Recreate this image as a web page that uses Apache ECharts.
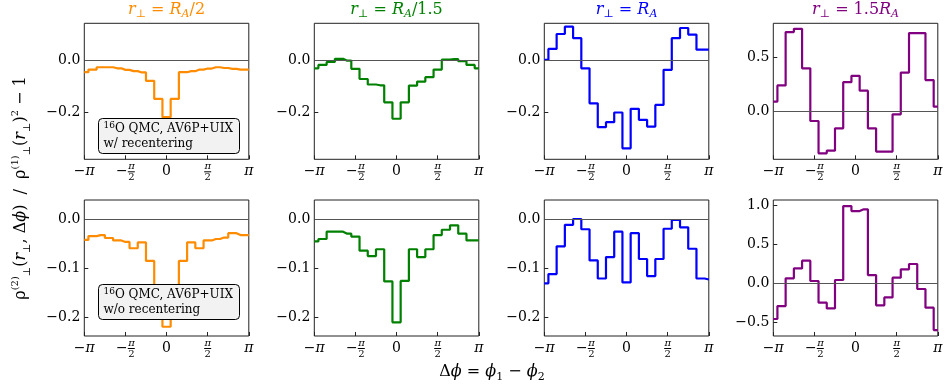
<!DOCTYPE html>
<html>
<head>
<meta charset="utf-8">
<script src="https://cdn.jsdelivr.net/npm/echarts@6/dist/echarts.min.js"></script>
<style>
  html, body { margin: 0; padding: 0; background: #fff; }
  #main { width: 947px; height: 387px; }
</style>
</head>
<body>
<div id="main"></div>
<script>
// 相对角 Δφ/π 的取样点
var phiOverPi = [-1.0, -0.9, -0.8, -0.7, -0.6, -0.5, -0.4, -0.3, -0.2, -0.1, 0.0,
                 0.1, 0.2, 0.3, 0.4, 0.5, 0.6, 0.7, 0.8, 0.9, 1.0];

// 上排: w/ recentering
var rowTopHalf   = [-0.047, -0.037, -0.028, -0.028, -0.032, -0.038, -0.043, -0.048, -0.080, -0.149, -0.219,
                    -0.149, -0.047, -0.043, -0.037, -0.033, -0.028, -0.031, -0.034, -0.037, -0.037];
var rowTop1p5    = [-0.032, -0.019, -0.008, 0.004, -0.003, -0.034, -0.073, -0.094, -0.097, -0.162, -0.225,
                    -0.162, -0.098, -0.083, -0.066, -0.037, 0.001, 0.003, -0.005, -0.019, -0.032];
var rowTopRA     = [0.0, 0.042, 0.099, 0.127, 0.083, -0.032, -0.166, -0.257, -0.238, -0.201, -0.338,
                    -0.187, -0.229, -0.255, -0.172, -0.038, 0.083, 0.122, 0.097, 0.039, 0.039];
var rowTop15RA   = [0.088, 0.24, 0.74, 0.77, 0.40, -0.094, -0.397, -0.372, -0.163, 0.27, 0.33,
                    0.19, -0.163, -0.381, -0.381, -0.031, 0.36, 0.73, 0.73, 0.29, 0.04];
// 下排: w/o recentering
var rowBotHalf   = [-0.042, -0.034, -0.032, -0.038, -0.043, -0.046, -0.059, -0.047, -0.085, -0.150, -0.220,
                    -0.150, -0.085, -0.047, -0.059, -0.043, -0.040, -0.037, -0.028, -0.032, -0.032];
var rowBot1p5    = [-0.045, -0.040, -0.025, -0.025, -0.029, -0.035, -0.064, -0.075, -0.061, -0.127, -0.211,
                    -0.126, -0.061, -0.077, -0.061, -0.032, -0.021, -0.012, -0.029, -0.043, -0.043];
var rowBotRA     = [-0.131, -0.112, -0.055, -0.011, 0.001, -0.020, -0.084, -0.121, -0.077, -0.025, -0.129,
                    -0.028, -0.081, -0.116, -0.081, -0.019, -0.001, -0.016, -0.060, -0.121, -0.123];
var rowBot15RA   = [-0.455, -0.29, 0.064, 0.19, 0.29, 0.03, -0.247, -0.32, 0.043, 0.987, 0.923,
                    0.945, 0.106, -0.28, -0.179, 0.072, 0.179, 0.247, -0.072, -0.31, -0.596];

var panelValues = [rowTopHalf, rowTop1p5, rowTopRA, rowTop15RA, rowBotHalf, rowBot1p5, rowBotRA, rowBot15RA];
var panelColors = ['#ff8c00', '#008000', '#0000ff', '#800080'];
var titleTexts = [
    '{i|r}{s|⊥}{n| = }{i|R}{s|A}{n|/2}',
    '{i|r}{s|⊥}{n| = }{i|R}{s|A}{n|/1.5}',
    '{i|r}{s|⊥}{n| = }{i|R}{s|A}',
    '{i|r}{s|⊥}{n| = 1.5}{i|R}{s|A}'
];
// y 轴刻度
var yTicksTop = [-0.2, 0.0];
var yTicksTop4 = [0.0, 0.5];
var yTicksBot = [-0.2, -0.1, 0.0];
var yTicksBot4 = [-0.5, 0.0, 0.5, 1.0];
var yTickList = [yTicksTop, yTicksTop, yTicksTop, yTicksTop4, yTicksBot, yTicksBot, yTicksBot, yTicksBot4];
var yRanges = [[-0.38, 0.14], [-0.38, 0.14], [-0.38, 0.14], [-0.453, 0.822],
               [-0.239, 0.040], [-0.239, 0.040], [-0.239, 0.040], [-0.672, 1.064]];
var legendLines = ['w/ recentering', 'w/o recentering'];

var SERIF = "'DejaVu Serif', 'Liberation Serif', serif";
var PI = Math.PI;

// 布局
var gridLefts = [84.3, 314.3, 544.3, 773.3];
var gridWidth = 164.5;
var gridTops = [23.3, 200];
var gridHeight = 136;

var dom = document.getElementById('main');
var myChart = echarts.init(dom);

var xTickVals = [-PI, -PI / 2, 0, PI / 2, PI];
var xRich = {
    a: { fontFamily: SERIF, fontSize: 14, color: '#000', lineHeight: 3 },
    ai: { fontFamily: SERIF, fontStyle: 'italic', fontSize: 14, color: '#000', lineHeight: 3 },
    n: { fontFamily: SERIF, fontSize: 10, color: '#000', lineHeight: 8 },
    ni: { fontFamily: SERIF, fontStyle: 'italic', fontSize: 10, color: '#000', lineHeight: 8 },
    np: { fontFamily: SERIF, fontStyle: 'italic', fontSize: 10, color: '#000', lineHeight: 8, padding: [0, 0, 0, 12] },
    npd: { fontFamily: SERIF, fontSize: 10, color: '#000', lineHeight: 8, padding: [0, 0, 0, 12] },
    e: { fontSize: 6, lineHeight: 8 },
    bar: { width: 7, height: 1, backgroundColor: '#000', lineHeight: 3 }
};
function xLabel(v) {
    var k = Math.round(v / (PI / 2));
    if (k === -2) return '{e| }\n{a|−}{ai|π}\n{e| }';
    if (k === 2) return '{e| }\n{ai|π}\n{e| }';
    if (k === 0) return '{e| }\n{a|0}\n{e| }';
    if (k === -1) return '{np|π}\n{a|−}{bar|}\n{npd|2}';
    return '{ni|π}\n{bar|}\n{n|2}';
}
function yLabel(v) {
    return (v < -1e-9 ? '−' : '') + Math.abs(v).toFixed(1);
}

var grids = [], xAxes = [], yAxes = [], series = [];
for (var i = 0; i < 8; i++) {
    var col = i % 4, row = Math.floor(i / 4);
    grids.push({
        left: gridLefts[col], top: gridTops[row], width: gridWidth, height: gridHeight,
        show: true, borderColor: '#222', borderWidth: 1, backgroundColor: 'transparent'
    });
    xAxes.push({
        type: 'value', gridIndex: i, min: -PI, max: PI, position: 'bottom',
        axisLine: { show: false, onZero: false }, splitLine: { show: false },
        axisTick: { show: true, inside: true, length: 4, customValues: xTickVals, lineStyle: { color: '#222' } },
        axisLabel: { show: true, customValues: xTickVals, formatter: xLabel, rich: xRich, margin: 3 }
    });
    yAxes.push({
        type: 'value', gridIndex: i, min: yRanges[i][0], max: yRanges[i][1], position: 'left',
        axisLine: { show: false, onZero: false }, splitLine: { show: false },
        axisTick: { show: true, inside: true, length: 4, customValues: yTickList[i], lineStyle: { color: '#222' } },
        axisLabel: { show: true, customValues: yTickList[i], formatter: yLabel, margin: 4,
            fontFamily: SERIF, fontSize: 14, color: '#000' }
    });
    var vals = panelValues[i];
    var pts = [];
    for (var k = 0; k < vals.length; k++) {
        pts.push([phiOverPi[k] * PI, vals[k]]);
    }
    series.push({
        type: 'line', xAxisIndex: i, yAxisIndex: i, data: pts,
        step: 'middle', symbol: 'none', clip: true, z: 3,
        lineStyle: { width: 2.2, color: panelColors[col] },
        markLine: {
            silent: true, symbol: 'none', animation: false,
            label: { show: false },
            lineStyle: { color: '#555', width: 1, type: 'solid' },
            data: [{ yAxis: 0 }]
        }
    });
}

var titles = [];
for (var c = 0; c < 4; c++) {
    titles.push({
        text: titleTexts[c],
        left: gridLefts[c] + gridWidth / 2, top: 0, textAlign: 'center',
        padding: 0,
        textStyle: {
            fontWeight: 'normal',
            rich: {
                i: { fontFamily: SERIF, fontStyle: 'italic', fontWeight: 'normal', fontSize: 16, color: panelColors[c], lineHeight: 20 },
                n: { fontFamily: SERIF, fontWeight: 'normal', fontSize: 16, color: panelColors[c], lineHeight: 20 },
                s: { fontFamily: SERIF, fontStyle: 'italic', fontWeight: 'normal', fontSize: 11, color: panelColors[c], lineHeight: 10, verticalAlign: 'bottom' }
            }
        }
    });
}

// 图例方框
function legendBox(x, y, line2) {
    return {
        type: 'group', x: x, y: y, z: 100,
        children: [
            { type: 'rect', shape: { x: 0, y: 0, width: 141, height: 35, r: 4 },
              style: { fill: '#f2f2f2', stroke: '#000', lineWidth: 1 }, z: 100 },
            { type: 'text', x: 5, y: 3, z: 101,
              style: {
                  text: '{sp|16}{t|O QMC, AV6P+UIX}\n{t|' + line2 + '}',
                  rich: {
                      sp: { fontFamily: SERIF, fontSize: 9, lineHeight: 9, verticalAlign: 'top', fill: '#000' },
                      t: { fontFamily: SERIF, fontSize: 12, lineHeight: 15, fill: '#000' }
                  }
              } }
        ]
    };
}

var option = {
    animation: false,
    backgroundColor: '#fff',
    title: titles,
    grid: grids,
    xAxis: xAxes,
    yAxis: yAxes,
    series: series,
    graphic: [
        legendBox(98.5, 118.5, legendLines[0]),
        legendBox(98.5, 284.5, legendLines[1]),
        {
            type: 'text', x: 21, y: 188, rotation: PI / 2, z: 50,
            style: {
                text: '{t|ρ}{u|(2)}{d|⊥}{t|(}{i|r}{d|⊥}{t|, Δ}{i|ϕ}{t|)  /  ρ}{u|(1)}{d|⊥}{t|(}{i|r}{d|⊥}{t|)}{u|2}{t| − 1}',
                align: 'center', verticalAlign: 'middle',
                rich: {
                    t: { fontFamily: SERIF, fontSize: 16, lineHeight: 22, fill: '#000' },
                    i: { fontFamily: SERIF, fontStyle: 'italic', fontSize: 16, lineHeight: 22, fill: '#000' },
                    u: { fontFamily: SERIF, fontSize: 10, lineHeight: 11, verticalAlign: 'top', fill: '#000' },
                    d: { fontFamily: SERIF, fontSize: 10, lineHeight: 11, verticalAlign: 'bottom', fill: '#000' }
                }
            }
        },
        {
            type: 'text', x: 492, y: 372, z: 50,
            style: {
                text: '{t|Δ}{i|ϕ}{t| = }{i|ϕ}{d|1}{t| − }{i|ϕ}{d|2}',
                align: 'center', verticalAlign: 'middle',
                rich: {
                    t: { fontFamily: SERIF, fontSize: 16, lineHeight: 22, fill: '#000' },
                    i: { fontFamily: SERIF, fontStyle: 'italic', fontSize: 16, lineHeight: 22, fill: '#000' },
                    d: { fontFamily: SERIF, fontSize: 11, lineHeight: 11, verticalAlign: 'bottom', fill: '#000' }
                }
            }
        }
    ]
};

if (option && typeof option === 'object') {
    myChart.setOption(option, true);
}
</script>
</body>
</html>
